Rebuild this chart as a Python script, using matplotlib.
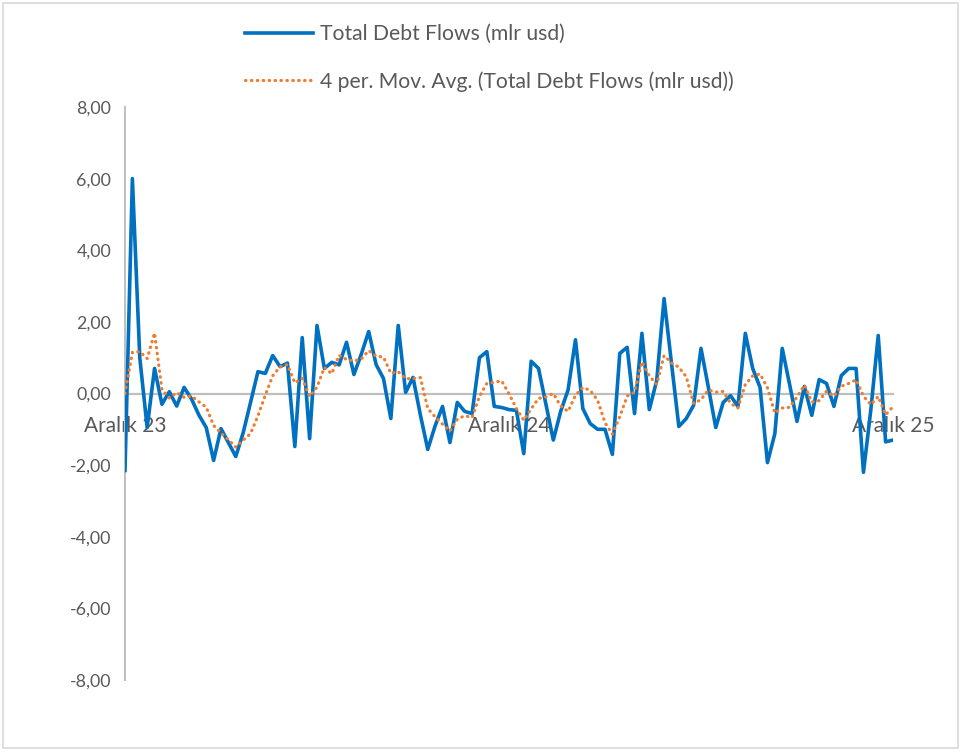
import numpy as np
import pandas as pd
import matplotlib
matplotlib.use("Agg")
import matplotlib.pyplot as plt
from matplotlib.patches import Rectangle

# weekly total debt flows (mlr usd), Aralik 23 .. Aralik 25
flows = [-2.15, 6.0, 1.0, -0.95, 0.7, -0.3, 0.05, -0.35, 0.17, -0.15,
         -0.6, -0.95, -1.87, -0.98, -1.37, -1.76, -1.1, -0.25, 0.61, 0.56,
         1.06, 0.75, 0.85, -1.48, 1.56, -1.26, 1.9, 0.7, 0.87, 0.8,
         1.43, 0.53, 1.1, 1.73, 0.81, 0.42, -0.7, 1.9, 0.03, 0.45,
         -0.6, -1.56, -0.9, -0.36, -1.37, -0.25, -0.5, -0.56, 1.0, 1.17,
         -0.36, -0.39, -0.45, -0.47, -1.68, 0.9, 0.7, -0.3, -1.3, -0.5,
         0.1, 1.5, -0.42, -0.84, -1.0, -1.0, -1.7, 1.12, 1.29, -0.56,
         1.68, -0.45, 0.36, 2.65, 0.85, -0.92, -0.7, -0.33, 1.26, 0.17,
         -0.95, -0.25, -0.06, -0.36, 1.68, 0.7, 0.17, -1.93, -1.12, 1.26,
         0.25, -0.78, 0.2, -0.61, 0.39, 0.28, -0.36, 0.5, 0.7, 0.7,
         -2.2, -0.45, 1.62, -1.35, -1.3]
# three earlier weeks (not drawn) that feed the first moving-average points
prior = [1.4, 0.92, -0.17]

tick_labels = ["Aralık 23", "Aralık 24", "Aralık 25"]
yticks = [-8, -6, -4, -2, 0, 2, 4, 6, 8]

s = pd.Series(prior + flows)
ma = s.rolling(4).mean().to_numpy()[len(prior):]
x = np.arange(len(flows))

plt.rcParams['font.family'] = ['Lato', 'DejaVu Sans']
grey_txt = '#595959'

fig = plt.figure(figsize=(9.63, 7.54), dpi=100)
ax = fig.add_axes([125/963, 1 - 680/754, (893 - 125)/963, (680 - 107)/754])

ax.plot(x, flows, color='#0070C0', lw=2.6, solid_joinstyle='round',
        label='Total Debt Flows (mlr usd)', zorder=3)
ax.plot(x, ma, color='#ED7D31', lw=2.3, linestyle=(0, (0.15, 1.7)),
        dash_capstyle='round', label='4 per. Mov. Avg. (Total Debt Flows (mlr usd))',
        zorder=4)

ax.set_xlim(0, len(flows) - 1)
ax.set_ylim(-8, 8)
ax.set_yticks(yticks)
ax.set_yticklabels([f"{v:.2f}".replace('.', ',') for v in yticks])
n = len(flows) - 1
ax.set_xticks([0, n / 2, n])
ax.set_xticklabels(tick_labels)

for side in ['top', 'right']:
    ax.spines[side].set_visible(False)
ax.spines['bottom'].set_position(('data', 0))
ax.spines['bottom'].set_color('#BFBFBF')
ax.spines['bottom'].set_linewidth(1.6)
ax.spines['left'].set_color('#BFBFBF')
ax.spines['left'].set_linewidth(1.4)
ax.tick_params(axis='both', length=0, labelcolor=grey_txt)
ax.tick_params(axis='y', pad=10, labelsize=12.8)
ax.tick_params(axis='x', pad=16, labelsize=15)

fig.legend(loc='upper left', bbox_to_anchor=(226/963, 1 - 5/754), frameon=False,
           fontsize=15.2, labelcolor=grey_txt, handlelength=3.2,
           handletextpad=0.34, labelspacing=1.28)

fig.patches.append(Rectangle((3/963, 6/754), 955/963, 745/754, transform=fig.transFigure,
                             fill=False, edgecolor='#D9D9D9', lw=1.2))

fig.savefig('out.png', dpi=100)
